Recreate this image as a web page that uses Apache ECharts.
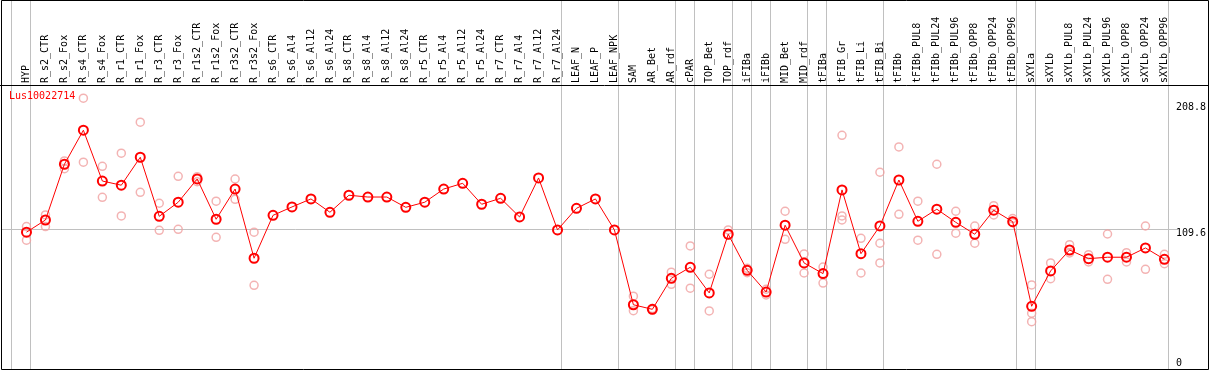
<!DOCTYPE html>
<html>
<head>
<meta charset="utf-8">
<script src="https://cdn.jsdelivr.net/npm/echarts@6/dist/echarts.min.js"></script>
<style>
html,body{margin:0;padding:0;background:#fff;}
#chart{width:1209px;height:370px;}
</style>
</head>
<body>
<div id="chart"></div>
<script>
const seriesName = 'Lus10022714';
const categories = ['HYP','R_s2_CTR','R_s2_Fox','R_s4_CTR','R_s4_Fox','R_r1_CTR','R_r1_Fox','R_r3_CTR','R_r3_Fox','R_r1s2_CTR','R_r1s2_Fox','R_r3s2_CTR','R_r3s2_Fox','R_s6_CTR','R_s6_Al4','R_s6_Al12','R_s6_Al24','R_s8_CTR','R_s8_Al4','R_s8_Al12','R_s8_Al24','R_r5_CTR','R_r5_Al4','R_r5_Al12','R_r5_Al24','R_r7_CTR','R_r7_Al4','R_r7_Al12','R_r7_Al24','LEAF_N','LEAF_P','LEAF_NPK','SAM','AR_Bet','AR_rdf','cPAR','TOP_Bet','TOP_rdf','iFIBa','iFIBb','MID_Bet','MID_rdf','tFIBa','tFIB_Gr','tFIB_Li','tFIB_Bi','tFIBb','tFIBb_PUL8','tFIBb_PUL24','tFIBb_PUL96','tFIBb_OPP8','tFIBb_OPP24','tFIBb_OPP96','sXYLa','sXYLb','sXYLb_PUL8','sXYLb_PUL24','sXYLb_PUL96','sXYLb_OPP8','sXYLb_OPP24','sXYLb_OPP96'];
const meanValues = [106.9,116.5,160.4,187.2,147.2,143.9,165.9,119.4,130.5,148.8,117.1,140.9,86.4,120.2,126.8,133.1,122.6,136.0,134.6,134.6,126.5,130.5,140.9,145.4,128.9,133.6,118.9,149.6,108.7,125.7,133.1,108.7,49.8,46.2,70.6,79.3,59.1,105.3,76.9,59.8,112.4,82.7,74.3,140.2,90.0,111.8,148.0,115.5,125.0,114.7,105.3,124.2,115.2,48.6,76.4,92.9,86.1,87.2,87.2,94.5,85.6];
const replicateA = [111.3,120.5,163.0,212.4,158.8,169.1,193.5,129.7,150.9,150.6,131.3,148.8,106.9,null,null,null,null,null,null,null,null,null,null,null,null,null,null,null,null,null,null,null,56.5,46.8,75.4,96.1,73.8,108.7,78.5,62.0,123.4,89.8,79.5,183.2,102.1,154.1,174.0,131.3,160.4,123.4,111.8,127.8,117.6,65.4,82.7,97.1,89.2,105.5,90.8,111.8,89.5];
const replicateB = [100.6,111.3,156.9,162.0,134.4,119.7,138.3,108.4,109.2,146.7,102.9,132.8,65.1,null,null,null,null,null,null,null,null,null,null,null,null,null,null,null,null,null,null,null,45.1,45.8,65.9,62.8,44.9,104.7,75.0,57.5,101.3,74.8,66.9,119.7,74.8,98.2,121.0,100.6,89.5,106.1,98.2,120.5,114.4,43.1,70.3,90.6,83.5,69.8,83.5,77.7,82.1];
const replicateC = [null,null,null,null,null,null,null,null,null,null,null,null,null,null,null,null,null,null,null,null,null,null,null,null,null,null,null,null,null,null,null,null,null,null,null,null,null,null,null,null,null,null,null,116.5,null,82.7,null,null,null,null,null,null,null,36.5,null,null,null,null,null,null,null];
const yTickValues = [0, 109.6, 208.8];
const refLineValue = 109.6;
const groupEnds = [-1, 0, 28, 31, 34, 35, 37, 38, 39, 41, 42, 45, 52, 53, 60];

const FONT = '"DejaVu Sans Mono", "Liberation Mono", monospace';
const chart = echarts.init(document.getElementById('chart'), null, {renderer: 'canvas'});

const repStyle = {
  type: 'scatter',
  symbol: 'circle',
  symbolSize: 8,
  itemStyle: {color: 'rgba(0,0,0,0)', borderColor: '#f0a0a0', borderWidth: 1.5},
  silent: true,
  z: 3
};

chart.setOption({
  animation: false,
  title: {
    text: seriesName,
    left: 9, top: 91, padding: 0,
    textStyle: {color: '#ff0000', fontFamily: FONT, fontSize: 10, fontWeight: 'normal'}
  },
  grid: {left: 17, right: 33, top: 86, bottom: 2, containLabel: false},
  xAxis: {
    type: 'category',
    data: categories,
    position: 'top',
    boundaryGap: true,
    axisLine: {show: false},
    axisTick: {show: false},
    splitLine: {show: false},
    axisLabel: {
      interval: 0, rotate: 90, margin: 3,
      color: '#000', fontFamily: FONT, fontSize: 10
    }
  },
  yAxis: {
    type: 'value',
    position: 'right',
    min: 0, max: 222,
    axisLine: {show: false},
    axisTick: {show: false},
    splitLine: {show: false},
    axisLabel: {
      customValues: yTickValues,
      showMinLabel: true, showMaxLabel: true,
      margin: 2, align: 'left', verticalAlign: 'top',
      verticalAlignMinLabel: 'bottom',
      color: '#000', fontFamily: FONT, fontSize: 10,
      formatter: v => String(v)
    }
  },
  series: [
    Object.assign({name: 'repA', data: replicateA}, repStyle),
    Object.assign({name: 'repB', data: replicateB}, repStyle),
    Object.assign({name: 'repC', data: replicateC}, repStyle),
    {
      name: seriesName,
      type: 'line',
      data: meanValues,
      symbol: 'circle',
      symbolSize: 9,
      showAllSymbol: true,
      lineStyle: {color: '#ff0000', width: 1},
      itemStyle: {color: 'rgba(0,0,0,0)', borderColor: '#ff0000', borderWidth: 2},
      z: 4
    }
  ]
});

// structural lines derived from the axes
const c0 = chart.convertToPixel({xAxisIndex: 0}, categories[0]);
const c1 = chart.convertToPixel({xAxisIndex: 0}, categories[1]);
const band = c1 - c0;
const yRef = chart.convertToPixel({yAxisIndex: 0}, refLineValue);
const graphics = [];
groupEnds.forEach(i => {
  const x = Math.round(c0 + band * i + band * 0.18) + 0.5;
  graphics.push({type: 'line', z: 0, silent: true,
    shape: {x1: x, y1: 0, x2: x, y2: 369},
    style: {stroke: '#c0c0c0', lineWidth: 1}});
});
graphics.push({type: 'line', z: 0, silent: true,
  shape: {x1: 2, y1: Math.round(yRef) + 0.5, x2: 1177, y2: Math.round(yRef) + 0.5},
  style: {stroke: '#c0c0c0', lineWidth: 1}});
graphics.push({type: 'line', z: 1, silent: true,
  shape: {x1: 0, y1: 85.5, x2: 1209, y2: 85.5},
  style: {stroke: '#000', lineWidth: 1}});
graphics.push({type: 'rect', z: 1, silent: true,
  shape: {x: 1.5, y: 0.5, width: 1207, height: 369},
  style: {fill: 'none', stroke: '#000', lineWidth: 1}});
chart.setOption({graphic: graphics});
</script>
</body>
</html>
